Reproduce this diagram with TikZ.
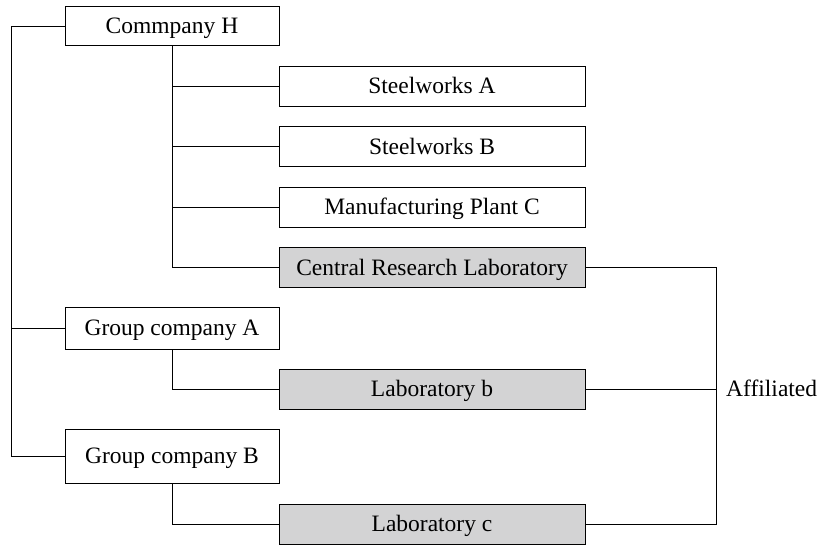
\documentclass[tikz,border=0pt]{standalone}
\usepackage{fontspec}
\setmainfont{Liberation Serif}
\definecolor{boxgray}{RGB}{211,211,212}
\begin{document}
\begin{tikzpicture}[x=1pt,y=-1pt,
  every node/.style={font=\fontsize{23.5}{28}\selectfont, inner sep=0pt, text height=15pt, text depth=0pt},
  orgbox/.style={draw=black, line width=1pt, fill=white, minimum height=40pt},
  leftbox/.style={orgbox, minimum width=214pt},
  rightbox/.style={orgbox, minimum width=306pt},
  labbox/.style={rightbox, fill=boxgray},
  conn/.style={draw=black, line width=1pt}]
\useasboundingbox (0,0) rectangle (822,545);
\node[leftbox, minimum height=39pt] (H) at (172,26.5) {Commpany H};
\node[rightbox] (SA) at (432,86.5) {Steelworks A};
\node[rightbox] (SB) at (432,147) {Steelworks B};
\node[rightbox] (MC) at (432,207.5) {Manufacturing Plant C};
\node[labbox] (CR) at (432,268) {Central Research Laboratory};
\node[leftbox, minimum height=41pt] (GA) at (172,328.5) {Group company A};
\node[labbox] (LB) at (432,389) {Laboratory b};
\node[leftbox, minimum height=54pt] (GB) at (172,456) {Group company B};
\node[labbox] (LC) at (432,524) {Laboratory c};
\node[anchor=west] (AF) at (726,389) {Affiliated};
\coordinate (lx) at (11,0);
\coordinate (rx) at (716,0);
% left trunk
\draw[conn] (H.west) -| (lx |- GB.west) -- (GB.west);
\draw[conn] (lx |- GA.west) -- (GA.west);
% company H branches
\draw[conn] (H.south) |- (CR.west);
\draw[conn] (H.south |- SA.west) -- (SA.west);
\draw[conn] (H.south |- SB.west) -- (SB.west);
\draw[conn] (H.south |- MC.west) -- (MC.west);
% group companies
\draw[conn] (GA.south) |- (LB.west);
\draw[conn] (GB.south) |- (LC.west);
% affiliated bracket
\draw[conn] (CR.east) -| (rx |- LC.east) -- (LC.east);
\draw[conn] (LB.east) -- (LB.east -| rx);
\end{tikzpicture}
\end{document}
